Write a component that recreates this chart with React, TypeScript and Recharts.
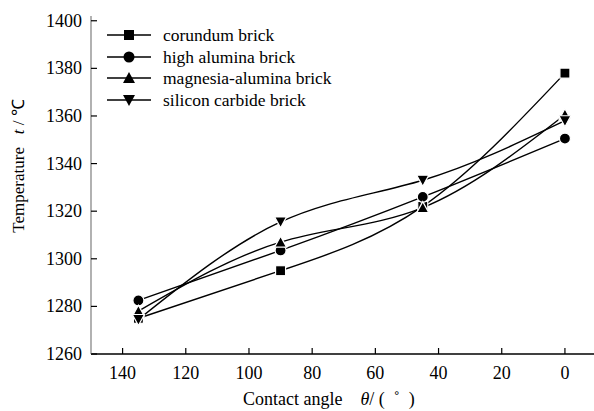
import React from "react";
import { LineChart, Line, XAxis, YAxis } from "recharts";

const angles = [135, 90, 45, 0];
const corundum = [1275, 1295, 1322, 1378];
const highAlumina = [1282.5, 1303.5, 1326, 1350.5];
const magnesiaAlumina = [1278, 1307, 1321.5, 1360.5];
const siliconCarbide = [1274.5, 1315.5, 1333, 1358];

const seriesNames = [
  "corundum brick",
  "high alumina brick",
  "magnesia-alumina brick",
  "silicon carbide brick",
];
const seriesKeys = ["c", "h", "m", "s"];
const seriesShapes = ["square", "circle", "up", "down"];

const xTicks = [140, 120, 100, 80, 60, 40, 20, 0];
const yTicks = [1260, 1280, 1300, 1320, 1340, 1360, 1380, 1400];

const data = angles.map((a, i) => ({
  angle: a,
  c: corundum[i],
  h: highAlumina[i],
  m: magnesiaAlumina[i],
  s: siliconCarbide[i],
}));

const FONT = "'Liberation Serif', 'Times New Roman', serif";

function Marker({ shape, cx, cy, stroke = "#fff" }: any) {
  if (cx == null || cy == null) return null;
  if (shape === "square") {
    return <rect x={cx - 5} y={cy - 5} width={10} height={10} fill="#000" stroke={stroke} strokeWidth={1.2} />;
  }
  if (shape === "circle") {
    return <circle cx={cx} cy={cy} r={5.5} fill="#000" stroke={stroke} strokeWidth={1.2} />;
  }
  if (shape === "up") {
    return (
      <polygon
        points={`${cx},${cy - 6} ${cx + 6},${cy + 5} ${cx - 6},${cy + 5}`}
        fill="#000"
        stroke={stroke}
        strokeWidth={1.2}
      />
    );
  }
  return (
    <polygon
      points={`${cx},${cy + 6} ${cx + 6},${cy - 5} ${cx - 6},${cy - 5}`}
      fill="#000"
      stroke={stroke}
      strokeWidth={1.2}
    />
  );
}

const XTick = (props: any) => {
  const { x, y, payload } = props;
  const axisY = y - 4;
  return (
    <g>
      <line x1={x} x2={x} y1={axisY} y2={axisY - 6} stroke="#000" strokeWidth={1.2} />
      <text x={x} y={axisY + 25} textAnchor="middle" fontFamily={FONT} fontSize={18} fill="#000">
        {payload.value}
      </text>
    </g>
  );
};

const YTick = (props: any) => {
  const { x, y, payload } = props;
  const axisX = x + 4;
  return (
    <g>
      <line x1={axisX} x2={axisX + 6} y1={y} y2={y} stroke="#000" strokeWidth={1.2} />
      <text x={axisX - 9} y={y + 6} textAnchor="end" fontFamily={FONT} fontSize={18} fill="#000">
        {payload.value}
      </text>
    </g>
  );
};

const LegendBox = () => (
  <div
    style={{
      position: "absolute",
      left: 105,
      top: 24,
      fontFamily: FONT,
      fontSize: 17.5,
      color: "#000",
      pointerEvents: "none",
    }}
  >
    {seriesNames.map((n, i) => (
      <div key={n} style={{ display: "flex", alignItems: "center", height: 21.7 }}>
        <svg width={50} height={16} style={{ display: "block" }}>
          <line x1={2} x2={46} y1={8} y2={8} stroke="#000" strokeWidth={1.3} />
          <Marker shape={seriesShapes[i]} cx={24} cy={8} stroke="none" />
        </svg>
        <span style={{ marginLeft: 8, lineHeight: "16px", whiteSpace: "nowrap" }}>{n}</span>
      </div>
    ))}
  </div>
);

export default function App() {
  return (
    <div style={{ position: "absolute", left: 0, top: 0, width: 594, height: 411, background: "#fff" }}>
      <LineChart width={594} height={411} data={data} margin={{ top: 16, right: 0, bottom: 0, left: 0 }}>
        <XAxis
          dataKey="angle"
          type="number"
          domain={[-9.2, 150]}
          reversed
          ticks={xTicks}
          tick={<XTick />}
          tickLine={false}
          tickSize={0}
          tickMargin={4}
          height={57}
          axisLine={{ stroke: "#000", strokeWidth: 1.3 }}
          allowDataOverflow
        />
        <XAxis
          xAxisId="top"
          orientation="top"
          dataKey="angle"
          type="number"
          domain={[-9.2, 150]}
          reversed
          height={0}
          tick={false}
          tickLine={false}
          axisLine={{ stroke: "#888", strokeWidth: 1.3 }}
        />
        <YAxis
          type="number"
          domain={[1260, 1402]}
          ticks={yTicks}
          tick={<YTick />}
          tickLine={false}
          tickSize={0}
          tickMargin={4}
          width={91}
          axisLine={{ stroke: "#888", strokeWidth: 1.3 }}
          allowDataOverflow
        />
        {seriesKeys.map((k, i) => (
          <Line
            key={k}
            dataKey={k}
            name={seriesNames[i]}
            type="natural"
            stroke="#000"
            strokeWidth={1.4}
            isAnimationActive={false}
            dot={(p: any) => <Marker key={`${k}-${p.index}`} shape={seriesShapes[i]} cx={p.cx} cy={p.cy} />}
            activeDot={false}
          />
        ))}
        <text x={243} y={405} textAnchor="start" fontFamily={FONT} fontSize={18} fill="#000" style={{ whiteSpace: "pre" }}>
          {"Contact angle\u00a0\u00a0\u00a0\u00a0"}
          <tspan fontStyle="italic">θ</tspan>
          {"/ (\u00a0\u00a0˚\u00a0\u00a0)"}
        </text>
        <text
          x={0}
          y={0}
          transform="translate(24,166) rotate(-90)"
          textAnchor="middle"
          fontFamily={FONT}
          fontSize={17}
          fill="#000"
        >
          {"Temperature\u00a0\u00a0\u00a0"}
          <tspan fontStyle="italic">t</tspan>
          {" / ℃"}
        </text>
      </LineChart>
      <LegendBox />
    </div>
  );
}
